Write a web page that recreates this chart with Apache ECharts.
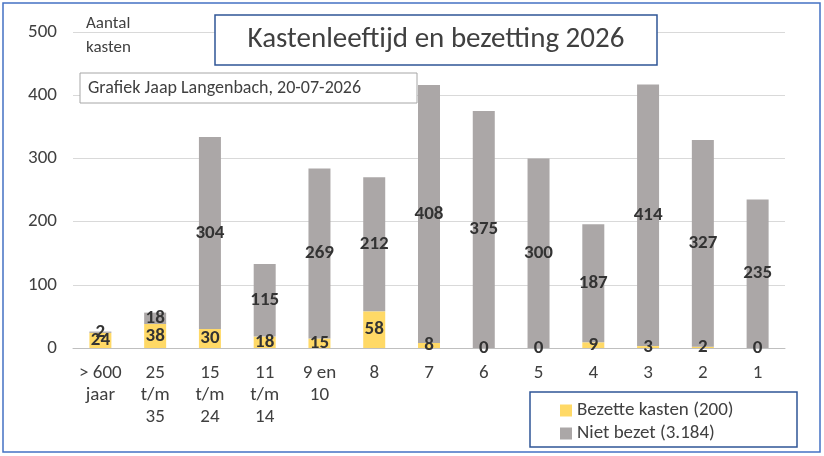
<!DOCTYPE html>
<html>
<head>
<meta charset="utf-8">
<script src="https://cdn.jsdelivr.net/npm/echarts@6/dist/echarts.min.js"></script>
<style>body{margin:0;background:#fff}#main{width:824px;height:456px}</style>
</head>
<body>
<div id="main"></div>
<script>
var categories = ['> 600\njaar', '25\nt/m\n35', '15\nt/m\n24', '11\nt/m\n14', '9 en\n10', '8', '7', '6', '5', '4', '3', '2', '1'];
var bezet = [24, 38, 30, 18, 15, 58, 8, 0, 0, 9, 3, 2, 0];
var nietBezet = [2, 18, 304, 115, 269, 212, 408, 375, 300, 187, 414, 327, 235];
var yTicks = [0, 100, 200, 300, 400, 500];

var font = 'Calibri, Carlito, "Liberation Sans", sans-serif';
var lbl = {show: true, position: 'inside', color: '#333', fontWeight: 'bold', fontSize: 19, fontFamily: font};
var chart = echarts.init(document.getElementById('main'));
chart.setOption({
    animation: false,
    textStyle: {fontFamily: font},
    graphic: [
        {type: 'rect', z: 100, shape: {x: 3, y: 3, width: 817, height: 449}, style: {fill: 'none', stroke: '#4472c4', lineWidth: 1.5}},
        {type: 'rect', z: 100, shape: {x: 215, y: 15, width: 442, height: 50}, style: {fill: '#fff', stroke: '#2f5597', lineWidth: 1.5}},
        {type: 'text', z: 101, x: 436, y: 40, style: {text: 'Kastenleeftijd en bezetting 2026', font: '29px ' + font, fill: '#404040', align: 'center', verticalAlign: 'middle'}},
        {type: 'rect', z: 100, shape: {x: 80, y: 73, width: 337, height: 30}, style: {fill: '#fff', stroke: '#a6a6a6', lineWidth: 1}},
        {type: 'text', z: 101, x: 88, y: 88, style: {text: 'Grafiek Jaap Langenbach, 20-07-2026', font: '18px ' + font, fill: '#404040', verticalAlign: 'middle'}},
        {type: 'text', z: 101, x: 86, y: 12, style: {text: 'Aantal\nkasten', font: '17px ' + font, fill: '#404040', lineHeight: 24}},
        {type: 'rect', z: 1, shape: {x: 530, y: 392, width: 267, height: 55}, style: {fill: '#fff', stroke: '#2f5597', lineWidth: 1.5}}
    ],
    legend: {
        orient: 'vertical', left: 555, top: 396, itemGap: 4, itemWidth: 12, itemHeight: 12, z: 10,
        icon: 'rect', textStyle: {fontSize: 19, color: '#404040', fontFamily: font},
        data: ['Bezette kasten (200)', 'Niet bezet (3.184)']
    },
    grid: {left: 73, right: 39, top: 32, bottom: 108},
    xAxis: {
        type: 'category', data: categories,
        axisLine: {lineStyle: {color: '#bfbfbf'}}, axisTick: {show: false},
        axisLabel: {color: '#404040', fontSize: 19, lineHeight: 22, interval: 0, margin: 14, fontFamily: font}
    },
    yAxis: {
        type: 'value', min: yTicks[0], max: yTicks[yTicks.length - 1], interval: 100,
        axisLine: {show: false}, axisTick: {show: false},
        splitLine: {lineStyle: {color: '#d9d9d9'}},
        axisLabel: {color: '#404040', fontSize: 19, margin: 16, fontFamily: font}
    },
    series: [
        {name: 'Bezette kasten (200)', type: 'bar', stack: 't', data: bezet, barWidth: 22,
         itemStyle: {color: '#ffd966'}, label: lbl},
        {name: 'Niet bezet (3.184)', type: 'bar', stack: 't', data: nietBezet, barWidth: 22,
         itemStyle: {color: '#aba7a7'}, label: lbl}
    ]
});
</script>
</body>
</html>
